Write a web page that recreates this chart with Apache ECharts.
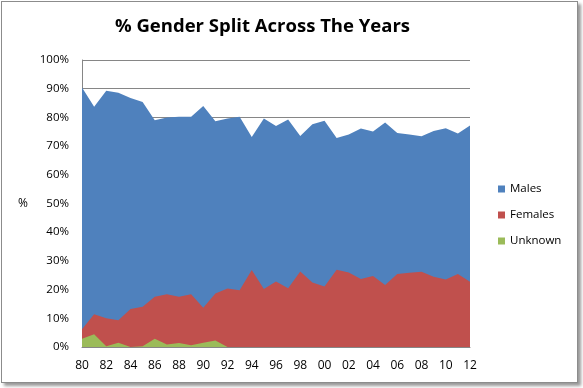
<!DOCTYPE html>
<html><head><meta charset="utf-8">
<script src="https://cdn.jsdelivr.net/npm/echarts@6/dist/echarts.min.js"></script>
<style>
html,body{margin:0;padding:0;background:#fff;}
#frame{position:absolute;left:1px;top:1px;width:575px;height:380px;border:1px solid #8c8c8c;box-shadow:3px 3px 3px #999;background:#fff;}
#c{position:absolute;left:0;top:0;width:583px;height:388px;}
</style></head>
<body>
<div id="frame"></div>
<div id="c"></div>
<script>
const years = ['80','81','82','83','84','85','86','87','88','89','90','91','92','93','94','95','96','97','98','99','00','01','02','03','04','05','06','07','08','09','10','11','12'];
const males = [90.4,83.7,89.3,88.6,86.8,85.4,79.0,80.0,80.2,80.2,84.0,78.7,79.6,80.2,73.2,79.6,77.0,79.3,73.5,77.6,78.8,72.8,74.0,76.1,75.1,78.2,74.6,74.0,73.4,75.3,76.2,74.4,77.2];
const females = [6.2,11.4,10.0,9.3,13.2,14.0,17.5,18.4,17.5,18.4,13.7,18.6,20.4,19.8,26.8,20.2,22.8,20.5,26.3,22.5,21.1,26.9,26.0,23.7,24.7,21.6,25.4,25.9,26.2,24.5,23.5,25.4,22.7];
const unknown = [2.9,4.4,0.3,1.5,0,0.3,2.9,0.9,1.4,0.6,1.5,2.3,0,0,0,0,0,0,0,0,0,0,0,0,0,0,0,0,0,0,0,0,0];
const yTicks = {min:0,max:100,interval:10};

const chart = echarts.init(document.getElementById('c'), null, {renderer:'canvas'});
const font = 'Open Sans';
function area(name, data, color){
  return {name, type:'line', data, symbol:'none', lineStyle:{width:0}, itemStyle:{color}, areaStyle:{color, opacity:1}, animation:false};
}
chart.setOption({
  animation:false,
  title:{text:'% Gender Split Across The Years', left:110, top:12,
    textStyle:{fontFamily:'Open Sans', fontWeight:'bold', fontSize:18.5, color:'#000'}},
  grid:{left:82, right:113, top:60, bottom:41},
  legend:{orient:'vertical', left:493, top:178, itemWidth:7, itemHeight:7, itemGap:14, icon:'rect',
    textStyle:{fontFamily:font, fontSize:11.5, color:'#000'},
    data:['Males','Females','Unknown']},
  xAxis:{type:'category', data:years, boundaryGap:false,
    axisLine:{lineStyle:{color:'#868686'}},
    axisTick:{show:false},
    axisLabel:{fontFamily:font, fontSize:12, color:'#000', margin:13, interval:1}},
  yAxis:{type:'value', min:yTicks.min, max:yTicks.max, interval:yTicks.interval,
    name:'%', nameLocation:'middle', nameGap:54, nameRotate:0,
    nameTextStyle:{fontFamily:font, fontSize:12, color:'#000'},
    axisLine:{show:true, lineStyle:{color:'#868686'}},
    axisTick:{show:false},
    axisLabel:{fontFamily:font, fontSize:11.5, color:'#000', margin:13, formatter:'{value}%'},
    splitLine:{lineStyle:{color:'#868686'}}},
  series:[area('Males',males,'#4F81BD'), area('Females',females,'#C0504D'), area('Unknown',unknown,'#9BBB59')]
});
</script>
</body></html>
